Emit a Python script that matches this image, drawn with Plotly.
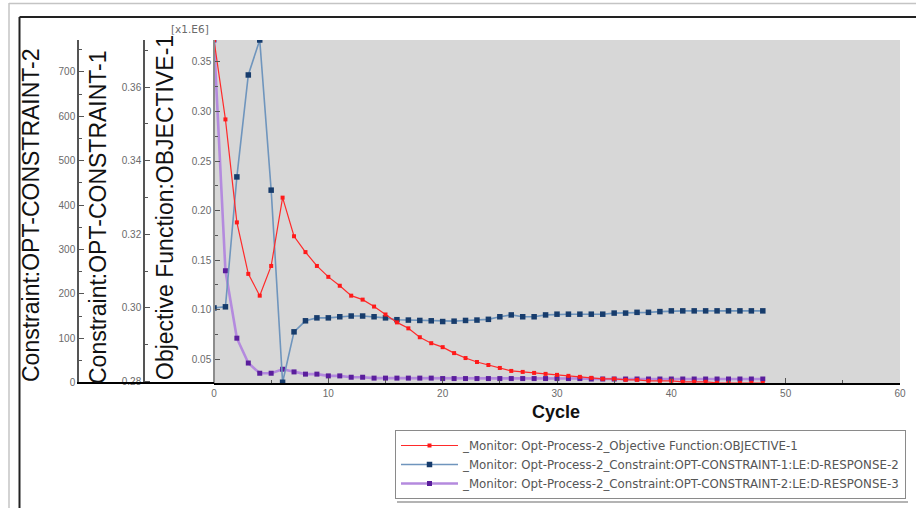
import plotly.graph_objects as go

W, H = 916, 508

# Optimisation history (cycles 0..48)
cycles = list(range(49))

objective = [0.3722, 0.292, 0.188, 0.136, 0.114, 0.144, 0.213, 0.174, 0.158, 0.144,
             0.133, 0.124, 0.114, 0.110, 0.103, 0.095, 0.087, 0.081, 0.072, 0.066,
             0.062, 0.056, 0.051, 0.047, 0.044, 0.041, 0.038, 0.037, 0.036, 0.035,
             0.034, 0.033, 0.032, 0.031, 0.030, 0.030, 0.029, 0.029, 0.028, 0.028,
             0.028, 0.027, 0.027, 0.027, 0.026, 0.026, 0.026, 0.026, 0.0258]

constraint1 = [0.3000, 0.3003, 0.3356, 0.3633, 0.3728, 0.3320, 0.2798, 0.2935, 0.2965, 0.2973,
               0.2973, 0.2976, 0.2978, 0.2978, 0.2976, 0.2973, 0.2968, 0.2967, 0.2966, 0.2965,
               0.2963, 0.2964, 0.2966, 0.2967, 0.2969, 0.2976, 0.2981, 0.2976, 0.2976, 0.2981,
               0.2983, 0.2983, 0.2983, 0.2983, 0.2983, 0.2986, 0.2986, 0.2988, 0.2988, 0.2990,
               0.2992, 0.2992, 0.2992, 0.2992, 0.2992, 0.2992, 0.2992, 0.2992, 0.2992]

constraint2 = [772, 252, 100, 44, 21, 21, 30, 24, 19, 19,
               15, 15, 12, 12, 10, 10, 10, 10, 10, 10,
               9, 9, 9, 9, 9, 9, 9, 9, 9, 9,
               9, 9, 9, 8, 8, 8, 8, 8, 8, 8,
               8, 8, 8, 8, 8, 8, 8, 8, 8]

names = [
    "_Monitor: Opt-Process-2_Objective Function:OBJECTIVE-1",
    "_Monitor: Opt-Process-2_Constraint:OPT-CONSTRAINT-1:LE:D-RESPONSE-2",
    "_Monitor: Opt-Process-2_Constraint:OPT-CONSTRAINT-2:LE:D-RESPONSE-3",
]

obj_range = [0.0258, 0.3722]
c1_range = [0.2796, 0.3728]
c2_range = [-1, 772]
x_range = [0, 60]

def px(x):
    return x / W

def py(y):
    return 1 - y / H

FONT = "Liberation Sans, Arial, sans-serif"
TICKFONT = dict(family=FONT, size=10, color="#6a6a6a")

PLOT_L, PLOT_R, PLOT_T, PLOT_B = 214, 900, 40, 383
ydom = [py(PLOT_B), py(PLOT_T)]

fig = go.Figure()

fig.add_trace(go.Scatter(
    x=cycles, y=constraint2, yaxis="y", name=names[2], mode="lines+markers",
    line=dict(color="#b48ade", width=2.6),
    marker=dict(symbol="square", size=5, color="#5a1e9c"),
))
fig.add_trace(go.Scatter(
    x=cycles, y=constraint1, yaxis="y2", name=names[1], mode="lines+markers",
    line=dict(color="#6f95bd", width=1.6),
    marker=dict(symbol="square", size=5.5, color="#173c6c"),
))
fig.add_trace(go.Scatter(
    x=cycles, y=objective, yaxis="y3", name=names[0], mode="lines+markers",
    line=dict(color="#ff2a2a", width=1.2),
    marker=dict(symbol="square", size=4, color="#ff1a1a"),
))

common_y = dict(showgrid=False, zeroline=False, ticks="inside", ticklen=5, automargin=False,
                tickfont=TICKFONT, tickcolor="#555", showline=True, linewidth=1.5)

fig.update_layout(
    width=W, height=H, autosize=False,
    margin=dict(l=0, r=0, t=0, b=0, pad=0),
    paper_bgcolor="white", plot_bgcolor="#d7d7d7",
    showlegend=True,
    xaxis=dict(domain=[px(PLOT_L), px(PLOT_R)], range=x_range, anchor="y", automargin=False,
               showgrid=False, zeroline=False, showline=True, linecolor="black", linewidth=2,
               ticks="inside", ticklen=5, tickcolor="#555", tickfont=TICKFONT,
               tickmode="linear", tick0=0, dtick=10,
               minor=dict(ticks="inside", ticklen=3, dtick=5, tickcolor="#555")),
    xaxis2=dict(overlaying="x", side="top", anchor="y", range=x_range, automargin=False,
                showgrid=False, zeroline=False, showline=True, linecolor="#8c8c8c", linewidth=2,
                ticks="inside", ticklen=4, tickcolor="#777", showticklabels=False,
                tickmode="linear", tick0=0, dtick=10,
                minor=dict(ticks="inside", ticklen=3, dtick=5, tickcolor="#777")),
    yaxis=dict(domain=ydom, range=c2_range, anchor="free", position=px(78), side="left",
               tickmode="linear", tick0=0, dtick=100, linecolor="#555",
               minor=dict(ticks="inside", ticklen=3, dtick=50, tickcolor="#555"),
               **common_y),
    yaxis2=dict(overlaying="y", range=c1_range, anchor="free", position=px(144), side="left",
                tickmode="linear", tick0=0.28, dtick=0.02, tickformat=".2f", linecolor="#555",
                minor=dict(ticks="inside", ticklen=3, dtick=0.01, tickcolor="#555"),
                **common_y),
    yaxis3=dict(overlaying="y", range=obj_range, anchor="free", position=px(PLOT_L), side="left",
                tickmode="linear", tick0=0.05, dtick=0.05, tickformat=".2f", linecolor="#8c8c8c",
                minor=dict(ticks="inside", ticklen=3, dtick=0.025, tickcolor="#555"),
                **common_y),
    yaxis4=dict(overlaying="y", range=obj_range, anchor="x", side="right", automargin=False,
                showgrid=False, zeroline=False, showline=True, linecolor="#8c8c8c", linewidth=2,
                ticks="inside", ticklen=4, tickcolor="#777", showticklabels=False,
                tickmode="linear", tick0=0.05, dtick=0.05,
                minor=dict(ticks="inside", ticklen=3, dtick=0.025, tickcolor="#777")),
    legend=dict(x=px(395), y=py(430), xanchor="left", yanchor="top",
                bgcolor="white", bordercolor="#8a8a8a", borderwidth=1,
                font=dict(family="DejaVu Sans", size=11.8, color="#555"),
                traceorder="reversed", itemwidth=57, tracegroupgap=0),
)

# Axis titles and labels
TITLE_FONT = dict(family=FONT, size=23, color="#111")
ann = [
    dict(text="Constraint:OPT-CONSTRAINT-2", x=px(31), y=py(215), textangle=-90, font=TITLE_FONT),
    dict(text="Constraint:OPT-CONSTRAINT-1", x=px(98), y=py(217), textangle=-90, font=TITLE_FONT),
    dict(text="Objective Function:OBJECTIVE-1", x=px(165), y=py(208), textangle=-90, font=TITLE_FONT),
    dict(text="<b>Cycle</b>", x=px(556), y=py(412),
         font=dict(family=FONT, size=18, color="#111")),
    dict(text="[x1.E6]", x=px(190), y=py(29),
         font=dict(family="DejaVu Sans", size=10.5, color="#6a6a6a")),
]
for a in ann:
    fig.add_annotation(xref="paper", yref="paper", showarrow=False,
                       xanchor="center", yanchor="middle", **a)

# Window frame, legend shadow and the extended base line under the stacked axes
shapes = [
    dict(type="line", x0=px(9), x1=px(9), y0=0, y1=py(3), line=dict(color="#c4c4c4", width=1.5)),
    dict(type="line", x0=px(9), x1=1, y0=py(3.5), y1=py(3.5), line=dict(color="#c4c4c4", width=1.5)),
    dict(type="line", x0=px(19.5), x1=px(19.5), y0=0, y1=py(17), line=dict(color="#222", width=2)),
    dict(type="line", x0=px(19.5), x1=1, y0=py(17), y1=py(17), line=dict(color="#222", width=2)),
    dict(type="line", x0=px(77), x1=px(PLOT_L), y0=py(PLOT_B), y1=py(PLOT_B),
         line=dict(color="black", width=2)),
    dict(type="line", x0=px(397), x1=px(908), y0=py(502), y1=py(502),
         line=dict(color="#b4b4b4", width=2)),
]
for s in shapes:
    fig.add_shape(xref="paper", yref="paper", **s)

fig.write_html("out.html")
